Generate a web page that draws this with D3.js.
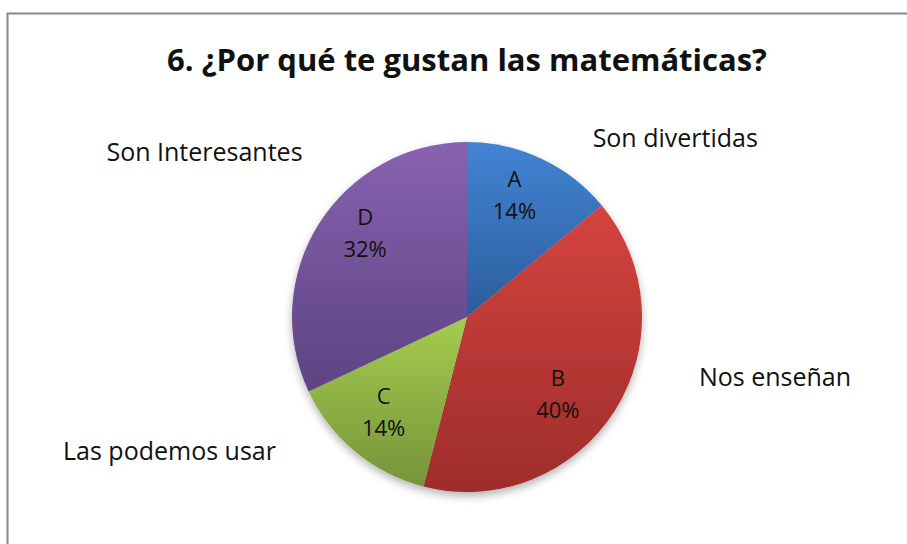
<!DOCTYPE html>
<html>
<head>
<meta charset="utf-8">
<script src="https://cdn.jsdelivr.net/npm/d3@7"></script>
<style>
    body { margin: 0; background: #fff; }
    text { font-family: "Open Sans", "Noto Sans", sans-serif; fill: #111; }
</style>
</head>
<body>
<svg id="chart"></svg>
<script>
// data
const title = "6. ¿Por qué te gustan las matemáticas?";
const letters = ["A", "B", "C", "D"];
const categories = ["Son divertidas", "Nos enseñan", "Las podemos usar", "Son Interesantes"];
const counts = [7, 20, 7, 16];
const topColors = ["#4284d3", "#d4443f", "#a6cc4f", "#8862b0"];
const bottomColors = ["#2c5d9c", "#9e2c2b", "#759439", "#5c4382"];

// layout
const width = 907, height = 544;
const cx = 467, cy = 317, radius = 175;
// category label offsets from pie centre, in radius units (hand placed like the original)
const labelOffsets = [[1.19, -1.02], [1.76, 0.35], [-1.70, 0.77], [-1.50, -0.94]];
// small pixel nudges of the inner labels away from the plain centroid (Excel best fit)
const innerNudge = [[-7, -5], [-17, 10], [-2, -2], [6, -15]];

const svg = d3.select("#chart")
    .attr("width", width)
    .attr("height", height);

const defs = svg.append("defs");

// soft shadow under the pie
const shadow = defs.append("filter")
    .attr("id", "shadow")
    .attr("x", "-10%").attr("y", "-10%")
    .attr("width", "120%").attr("height", "125%");
shadow.append("feDropShadow")
    .attr("dx", 0).attr("dy", 4)
    .attr("stdDeviation", 4)
    .attr("flood-color", "#000")
    .attr("flood-opacity", 0.3);

letters.forEach((l, i) => {
    const g = defs.append("linearGradient")
        .attr("id", "grad" + i)
        .attr("x1", 0).attr("y1", 0)
        .attr("x2", 0).attr("y2", 1);
    g.append("stop").attr("offset", "0%").attr("stop-color", topColors[i]);
    g.append("stop").attr("offset", "100%").attr("stop-color", bottomColors[i]);
});

// frame (only left and top edges visible in the crop)
svg.append("rect")
    .attr("x", 7.5).attr("y", 13.5)
    .attr("width", 1000).attr("height", 700)
    .attr("fill", "none")
    .attr("stroke", "#888")
    .attr("stroke-width", 2);

svg.append("text")
    .attr("x", cx)
    .attr("y", 71)
    .attr("text-anchor", "middle")
    .style("font-size", "31px")
    .style("font-weight", "bold")
    .text(title);

const total = d3.sum(counts);
const pie = d3.pie().sort(null).value(d => d);
const arcs = pie(counts);

const arc = d3.arc().innerRadius(0).outerRadius(radius);
const labelArc = d3.arc().innerRadius(radius * 0.73).outerRadius(radius * 0.73);

const chartArea = svg.append("g")
    .attr("transform", `translate(${cx},${cy})`);

chartArea.append("g")
    .attr("filter", "url(#shadow)")
    .selectAll("path")
    .data(arcs)
    .join("path")
    .attr("d", arc)
    .attr("fill", (d, i) => `url(#grad${i})`);

// letter + percent inside each slice
const dataLabels = chartArea.selectAll(".data-label")
    .data(arcs)
    .join("text")
    .attr("class", "data-label")
    .attr("text-anchor", "middle")
    .attr("transform", (d, i) => {
        const [x, y] = labelArc.centroid(d);
        return `translate(${x + innerNudge[i][0]},${y + innerNudge[i][1]})`;
    })
    .style("font-size", "22px");

dataLabels.append("tspan")
    .attr("x", 0).attr("y", -9)
    .text((d, i) => letters[i]);
dataLabels.append("tspan")
    .attr("x", 0).attr("y", 23)
    .text(d => Math.round(d.data / total * 100) + "%");

// category names outside
chartArea.selectAll(".cat-label")
    .data(categories)
    .join("text")
    .attr("class", "cat-label")
    .attr("text-anchor", "middle")
    .attr("x", (d, i) => labelOffsets[i][0] * radius)
    .attr("y", (d, i) => labelOffsets[i][1] * radius + 8)
    .style("font-size", "25px")
    .text(d => d);
</script>
</body>
</html>
